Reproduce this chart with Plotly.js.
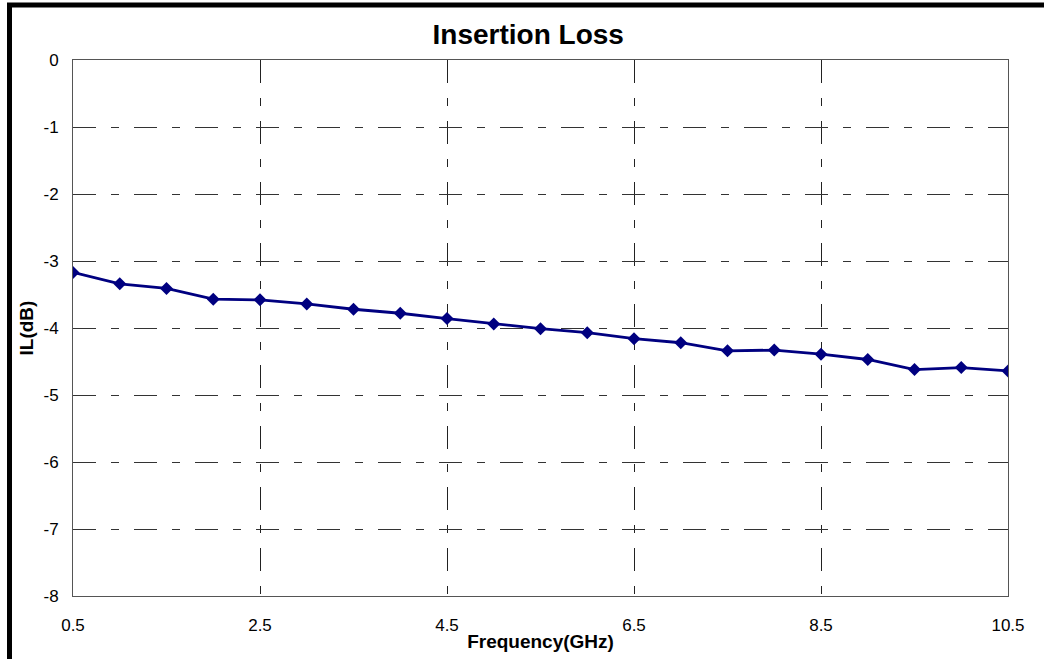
<!DOCTYPE html>
<html>
<head>
<meta charset="utf-8">
<script src="https://cdn.plot.ly/plotly-3.0.1.min.js"></script>
<style>
html,body{margin:0;padding:0;background:#fff;}
#chart{width:1044px;height:659px;}
</style>
</head>
<body>
<div id="chart"></div>
<script>
const frequency = [0.5,1.0,1.5,2.0,2.5,3.0,3.5,4.0,4.5,5.0,5.5,6.0,6.5,7.0,7.5,8.0,8.5,9.0,9.5,10.0,10.5];
const insertionLoss = [-3.17,-3.34,-3.41,-3.57,-3.58,-3.64,-3.72,-3.78,-3.86,-3.94,-4.01,-4.07,-4.16,-4.22,-4.34,-4.33,-4.39,-4.47,-4.62,-4.59,-4.64];
const xTicks = [0.5,2.5,4.5,6.5,8.5,10.5];
const yTicks = [0,-1,-2,-3,-4,-5,-6,-7,-8];

const trace = {
  x: frequency, y: insertionLoss, type: 'scatter', mode: 'lines+markers',
  line: {color: '#000080', width: 2.8},
  marker: {symbol: 'diamond', size: 10, color: '#000080'},
  showlegend: false, hoverinfo: 'x+y'
};

const font = "Arial, 'Liberation Sans', sans-serif";
const px = v => (v - 73) / 935;
const py = v => (596 - v) / 536;
const layout = {
  width: 1044, height: 659,
  margin: {l: 73, r: 36, t: 60, b: 63, pad: 0},
  paper_bgcolor: '#ffffff', plot_bgcolor: '#ffffff',
  font: {family: font, color: '#000', size: 17},
  title: {text: '<b>Insertion Loss</b>', font: {family: font, size: 28, color: '#000'},
          x: 0.506, xanchor: 'center', y: 0.948, yanchor: 'middle'},
  xaxis: {
    range: [0.5, 10.5], tickvals: xTicks, ticktext: xTicks.map(v => v.toFixed(1)),
    showgrid: true, gridcolor: '#222', gridwidth: 1, griddash: '23px,15px,8px,15px',
    zeroline: false, showline: true, linecolor: '#555', linewidth: 1, mirror: true,
    ticks: '', ticklabelstandoff: 14, tickfont: {size: 17},
    title: {text: '<b>Frequency(GHz)</b>', font: {size: 19}, standoff: 0}
  },
  yaxis: {
    range: [-8, 0], tickvals: yTicks, ticktext: yTicks.map(String),
    showgrid: true, gridcolor: '#333', gridwidth: 1, griddash: '23px,15px,8px,15px',
    zeroline: false, showline: true, linecolor: '#555', linewidth: 1, mirror: true,
    ticks: '', ticklabelstandoff: 10, tickfont: {size: 17},
    title: {text: '<b>IL(dB)</b>', font: {size: 19}, standoff: 4}
  },
  shapes: [
    {type: 'line', xref: 'paper', yref: 'paper', x0: px(9.5), x1: px(9.5), y0: py(3), y1: py(680),
     line: {color: '#000', width: 5}, layer: 'above'},
    {type: 'line', xref: 'paper', yref: 'paper', x0: px(7), x1: px(1060), y0: py(5), y1: py(5),
     line: {color: '#000', width: 5}, layer: 'above'}
  ]
};

Plotly.newPlot('chart', [trace], layout, {displayModeBar: false, staticPlot: true});
</script>
</body>
</html>
